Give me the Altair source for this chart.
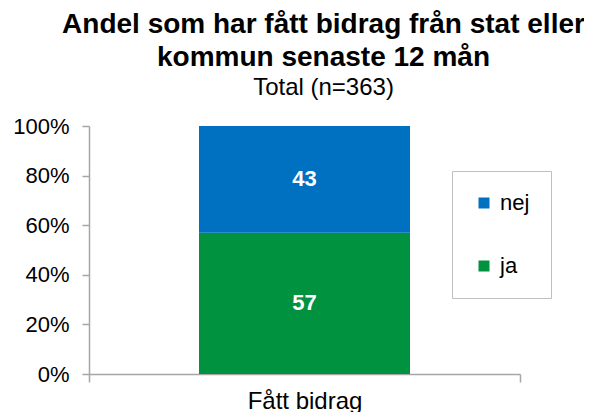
import altair as alt
import pandas as pd

categories = ["Fått bidrag", "Fått bidrag"]
series = ["ja", "nej"]
values = [57, 43]
order = [0, 1]
legend_order = ["nej", "ja"]
colors = ["#0070C0", "#00923F"]
y_ticks = [0, 20, 40, 60, 80, 100]

df = pd.DataFrame({"cat": categories, "serie": series, "value": values, "ord": order})

FONT = "Liberation Sans"
GREY = "#A6A6A6"

base = alt.Chart(df).transform_stack(
    stack="value", groupby=["cat"], as_=["y0", "y1"], sort=[alt.SortField("ord")]
).transform_calculate(mid="(datum.y0 + datum.y1) / 2")

x_enc = alt.X(
    "cat:N",
    title=None,
    scale=alt.Scale(paddingInner=0, paddingOuter=0),
    axis=alt.Axis(
        labelAngle=0, labelFontSize=24, labelFont=FONT, labelColor="black",
        domainColor=GREY, domainWidth=1.5, tickColor=GREY, tickWidth=1.5,
        tickSize=8, tickBand="extent", labelPadding=7,
    ),
)

bars = base.mark_bar(size=211).encode(
    x=x_enc,
    y=alt.Y(
        "y0:Q",
        title=None,
        scale=alt.Scale(domain=[0, 100], nice=False),
        axis=alt.Axis(
            values=y_ticks, labelExpr="datum.value + '%'", grid=False,
            labelFontSize=22, labelFont=FONT, labelColor="black",
            domainColor=GREY, domainWidth=1.5, tickColor=GREY, tickWidth=1.5,
            tickSize=7, labelPadding=13,
        ),
    ),
    y2="y1:Q",
    color=alt.Color(
        "serie:N",
        scale=alt.Scale(domain=legend_order, range=colors),
        legend=alt.Legend(
            title=None, orient="none", legendX=363, legendY=45,
            symbolType="square", symbolSize=121, symbolStrokeWidth=0,
            labelFontSize=22, labelFont=FONT, labelColor="black", labelOffset=5,
            strokeColor="#BFBFBF", padding=21, rowPadding=41,
        ),
    ),
)

labels = base.mark_text(
    color="white", fontSize=22, fontWeight="bold", font=FONT, baseline="middle"
).encode(
    x=alt.X("cat:N"),
    y=alt.Y("mid:Q"),
    text=alt.Text("value:Q"),
)

chart = alt.layer(bars, labels).properties(
    width=431,
    height=248,
    title=alt.TitleParams(
        text=["Andel som har fått bidrag från stat eller", "kommun senaste 12 mån"],
        subtitle="Total (n=363)",
        font=FONT, fontSize=28, fontWeight="bold", color="black", lineHeight=33,
        subtitleFont=FONT, subtitleFontSize=24, subtitleColor="black",
        subtitlePadding=4, anchor="middle", dx=19, offset=15,
    ),
    autosize=alt.AutoSizeParams(type="none"),
    padding={"left": 81, "top": 118, "right": 64, "bottom": 38},
).configure_view(stroke=None)

chart.save("out.html", embed_options={"renderer": "svg", "actions": False})
